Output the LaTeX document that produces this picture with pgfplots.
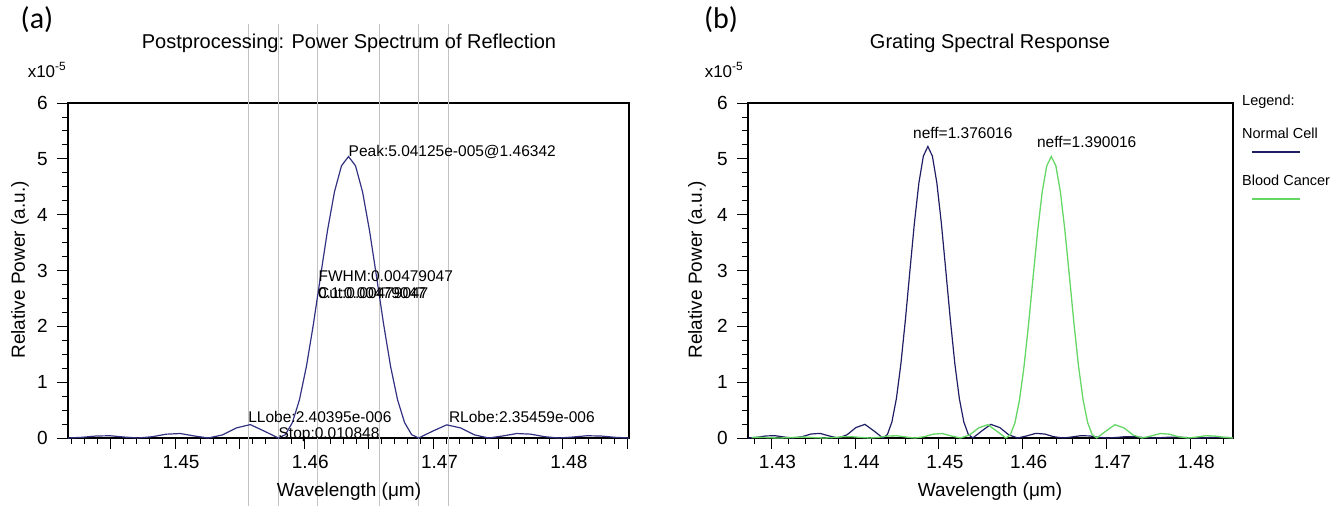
\documentclass[border=0pt]{standalone}
\usepackage{fontspec}
\setmainfont{Liberation Sans}
\newfontfamily\calib{Carlito}
\usepackage{pgfplots}
\usepackage{pgfplotstable}
\pgfplotsset{compat=1.18}

\definecolor{navyA}{RGB}{50,50,130}
\definecolor{navyB}{RGB}{30,30,100}
\definecolor{greenB}{RGB}{100,215,100}
\definecolor{gline}{RGB}{195,195,195}

\newcommand\tfont{\fontsize{19}{19}\selectfont}
\newcommand\afont{\fontsize{15.5}{16}\selectfont}
\newcommand\lfont{\fontsize{14.5}{15}\selectfont}

% Panel (a): reflection spectrum
\pgfplotstableread{
x y
1.441724 0
1.442809 0.0122
1.443894 0.0356
1.444978 0.0400
1.446063 0.0172
1.447148 0
1.448233 0.0225
1.449318 0.0683
1.450402 0.0802
1.451487 0.0365
1.452572 0
1.453657 0.0545
1.454742 0.1804
1.455826 0.2400
1.456911 0.1225
1.457996 0
1.458538 0.060
1.459081 0.276
1.459623 0.682
1.460166 1.283
1.460708 2.043
1.461250 2.887
1.461793 3.713
1.462335 4.410
1.462878 4.876
1.463420 5.041
1.463962 4.876
1.464505 4.410
1.465047 3.713
1.465590 2.887
1.466132 2.043
1.466674 1.283
1.467217 0.682
1.467759 0.276
1.468302 0.060
1.468844 0
1.469929 0.1225
1.471014 0.2355
1.472098 0.1804
1.473183 0.0545
1.474268 0
1.475353 0.0365
1.476438 0.0802
1.477522 0.0683
1.478607 0.0225
1.479692 0
1.480777 0.0172
1.481862 0.0400
1.482946 0.0356
1.484031 0.0122
1.485116 0
}\tabA

% Panel (b): Normal Cell
\pgfplotstableread{
x y
1.427200 0
1.428274 0.013
1.429348 0.037
1.430422 0.041
1.431496 0.018
1.432570 0
1.433644 0.023
1.434718 0.071
1.435792 0.083
1.436866 0.038
1.437940 0
1.439014 0.056
1.440088 0.187
1.441162 0.244
1.442236 0.127
1.443310 0
1.443847 0.062
1.444384 0.286
1.444921 0.706
1.445458 1.329
1.445995 2.116
1.446532 2.990
1.447069 3.846
1.447606 4.567
1.448143 5.050
1.448680 5.221
1.449217 5.050
1.449754 4.567
1.450291 3.846
1.450828 2.990
1.451365 2.116
1.451902 1.329
1.452439 0.706
1.452976 0.286
1.453513 0.062
1.454050 0
1.455124 0.127
1.456198 0.244
1.457272 0.187
1.458346 0.056
1.459420 0
1.460494 0.038
1.461568 0.083
1.462642 0.071
1.463716 0.023
1.464790 0
1.465864 0.018
1.466938 0.041
1.468012 0.037
1.469086 0.013
1.470160 0
1.471234 0.010
1.472308 0.025
1.473382 0.023
1.474456 0.008
1.475530 0
1.476604 0.007
1.477678 0.016
1.478752 0.015
1.479826 0.005
1.480900 0
1.481974 0.005
1.483048 0.012
1.484122 0.011
1.485100 0.004
}\tabN

% Panel (b): Blood Cancer
\pgfplotstableread{
x y
1.427622 0.0106
1.428706 0.0113
1.429791 0.0046
1.430876 0
1.431961 0.0052
1.433046 0.0147
1.434130 0.0158
1.435215 0.0065
1.436300 0
1.437385 0.0077
1.438470 0.0218
1.439554 0.0239
1.440639 0.0100
1.441724 0
1.442809 0.0122
1.443894 0.0356
1.444978 0.0400
1.446063 0.0172
1.447148 0
1.448233 0.0225
1.449318 0.0683
1.450402 0.0802
1.451487 0.0365
1.452572 0
1.453657 0.0545
1.454742 0.1804
1.455826 0.2380
1.456911 0.1225
1.457996 0
1.458538 0.060
1.459081 0.276
1.459623 0.682
1.460166 1.283
1.460708 2.043
1.461250 2.887
1.461793 3.713
1.462335 4.410
1.462878 4.876
1.463420 5.041
1.463962 4.876
1.464505 4.410
1.465047 3.713
1.465590 2.887
1.466132 2.043
1.466674 1.283
1.467217 0.682
1.467759 0.276
1.468302 0.060
1.468844 0
1.469929 0.1225
1.471014 0.2380
1.472098 0.1804
1.473183 0.0545
1.474268 0
1.475353 0.0365
1.476438 0.0802
1.477522 0.0683
1.478607 0.0225
1.479692 0
1.480777 0.0172
1.481862 0.0400
1.482946 0.0356
1.484031 0.0122
1.485116 0
}\tabC

\pgfplotsset{
 base/.style={
  scale only axis, anchor=south west, height=335pt,
  ymin=0, ymax=6,
  axis line style={line width=1.2pt, black},
  tick align=outside, xtick pos=bottom, ytick pos=left,
  major tick length=11pt, minor tick length=6pt,
  major tick style={line width=0.9pt, black},
  minor tick style={line width=0.9pt, black},
  ytick={0,1,2,3,4,5,6}, yticklabels={0,1,2,3,4,5,6},
  minor ytick={0.25,0.5,0.75,1.25,1.5,1.75,2.25,2.5,2.75,3.25,3.5,3.75,4.25,4.5,4.75,5.25,5.5,5.75},
  tick label style={font=\tfont, inner sep=0pt},
  xticklabel style={anchor=north, yshift=-6pt, xshift=6pt},
  yticklabel style={anchor=east, xshift=-9pt},
  clip=false,
 }
}

\begin{document}
\begin{tikzpicture}
\useasboundingbox (0,0) rectangle (1341pt,506pt);

% ---------------- Panel (a)
\begin{axis}[base, at={(68pt,68pt)}, width=561pt,
  xmin=1.441724, xmax=1.485116,
  xtick={1.445,1.45,1.455,1.46,1.465,1.47,1.475,1.48,1.485},
  xticklabels={,1.45,,1.46,,1.47,,1.48,},
  minor xtick={1.442,1.443,1.444,1.446,1.447,1.448,1.449,1.451,1.452,1.453,1.454,1.456,1.457,1.458,1.459,1.461,1.462,1.463,1.464,1.466,1.467,1.468,1.469,1.471,1.472,1.473,1.474,1.476,1.477,1.478,1.479,1.481,1.482,1.483,1.484},
]
\foreach \xv in {1.45566,1.457996,1.46103,1.46582,1.468844,1.47118}{
  \edef\tmp{\noexpand\draw[gline, line width=1.3pt] (axis cs:\xv,-1.22) -- (axis cs:\xv,7.42);}\tmp
}
\addplot[navyA, line width=1.2pt] table[x=x,y=y] {\tabA};
\node[anchor=west, inner sep=0pt, font=\afont] at (axis cs:1.46342,5.13) {Peak:5.04125e-005@1.46342};
\node[anchor=west, inner sep=0pt, font=\afont] at (axis cs:1.46109,2.89) {FWHM:0.00479047};
\node[anchor=west, inner sep=0pt, font=\afont] at (axis cs:1.46105,2.60) {Cut:0.00479047};
\node[anchor=west, inner sep=0pt, font=\afont] at (axis cs:1.46105,2.60) {0.1:0.00479047};
\node[anchor=west, inner sep=0pt, font=\afont] at (axis cs:1.45566,0.38) {LLobe:2.40395e-006};
\node[anchor=west, inner sep=0pt, font=\afont] at (axis cs:1.45800,0.06) {Stop:0.010848};
\node[anchor=west, inner sep=0pt, font=\afont] at (axis cs:1.47118,0.38) {RLobe:2.35459e-006};
\end{axis}

% ---------------- Panel (b)
\begin{axis}[base, at={(748pt,68pt)}, width=485pt,
  xmin=1.4272, xmax=1.48512,
  xtick={1.43,1.44,1.45,1.46,1.47,1.48},
  xticklabels={1.43,1.44,1.45,1.46,1.47,1.48},
  minor xtick={1.428,1.432,1.434,1.436,1.438,1.442,1.444,1.446,1.448,1.452,1.454,1.456,1.458,1.462,1.464,1.466,1.468,1.472,1.474,1.476,1.478,1.482,1.484},
]
\addplot[navyB, line width=1.2pt] table[x=x,y=y] {\tabN};
\addplot[greenB, line width=1.3pt] table[x=x,y=y] {\tabC};
\node[anchor=west, inner sep=0pt, font=\afont] at (axis cs:1.4469,5.47) {neff=1.376016};
\node[anchor=west, inner sep=0pt, font=\afont] at (axis cs:1.4617,5.30) {neff=1.390016};
\end{axis}

% ---------------- titles, labels, legend
\node[font=\calib\fontsize{30}{30}\selectfont] at (37pt,486pt) {(a)};
\node[font=\calib\fontsize{30}{30}\selectfont] at (721pt,486pt) {(b)};
\node[font=\fontsize{20}{20}\selectfont] at (349pt,463pt) {Postprocessing: Power Spectrum of Reflection};
\node[font=\fontsize{20}{20}\selectfont] at (990pt,463pt) {Grating Spectral Response};
\node[font=\fontsize{17}{17}\selectfont] at (47pt,436pt) {x10\textsuperscript{-5}};
\node[font=\fontsize{17}{17}\selectfont] at (724pt,436pt) {x10\textsuperscript{-5}};
\node[font=\tfont, rotate=90] at (20pt,236pt) {Relative Power (a.u.)};
\node[font=\tfont, rotate=90] at (697pt,236pt) {Relative Power (a.u.)};
\node[font=\tfont] at (349pt,14pt) {Wavelength (μm)};
\node[font=\tfont] at (990pt,14pt) {Wavelength (μm)};
\node[anchor=west, inner sep=0pt, font=\lfont] at (1242pt,404pt) {Legend:};
\node[anchor=west, inner sep=0pt, font=\lfont] at (1242pt,373pt) {Normal Cell};
\draw[navyB, line width=1.2pt] (1252pt,354pt) -- (1300pt,354pt);
\node[anchor=west, inner sep=0pt, font=\lfont] at (1242pt,326pt) {Blood Cancer};
\draw[greenB, line width=1.3pt] (1252pt,307pt) -- (1300pt,307pt);
\end{tikzpicture}
\end{document}
